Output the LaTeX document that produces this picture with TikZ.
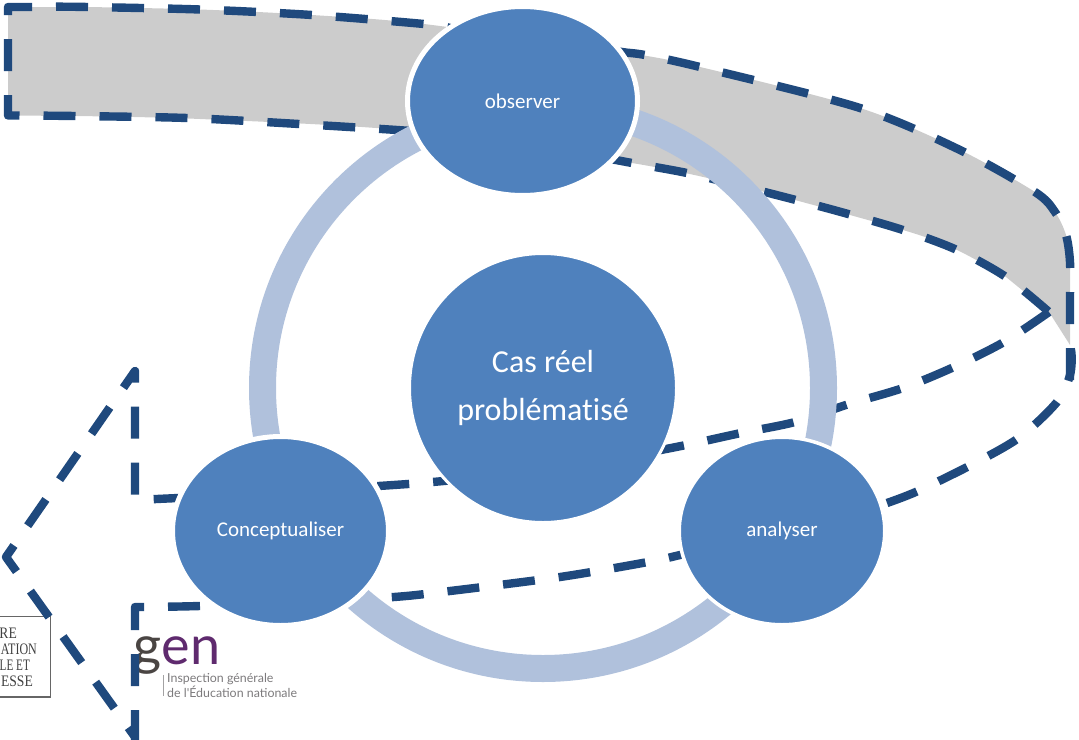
\documentclass[tikz,border=0pt]{standalone}
\usepackage{fontspec}
\usetikzlibrary{shapes.geometric}
\setmainfont[Ligatures=NoCommon]{Carlito}
\newfontfamily\logofont{Lato}
\newfontfamily\minfont{Liberation Serif}
\definecolor{dashblue}{HTML}{1F497D}
\definecolor{nodeblue}{HTML}{4F81BD}
\definecolor{ringblue}{HTML}{B0C1DC}
\definecolor{bandgrey}{HTML}{CCCCCC}
\definecolor{genpurple}{HTML}{5F2A6E}
\definecolor{gengrey}{HTML}{4A4543}
\definecolor{gentext}{HTML}{7C7A7C}
\tikzset{
  dashline/.style={draw=dashblue,line width=8.4pt,dash pattern=on 32pt off 24pt,line join=round},
  blob/.style={ellipse,fill=nodeblue,draw=white,inner sep=0pt,text=white,align=center,line width=5pt,font=\fontsize{21}{25}\selectfont},
  mintext/.style={anchor=east,inner sep=0pt,text=black!75,transform shape,font=\minfont\fontsize{16}{18}\selectfont},
  genmark/.style={anchor=base west,inner sep=0pt,font=\logofont\fontsize{54}{54}\selectfont},
  gensmall/.style={anchor=base west,inner sep=0pt,text=gentext,font=\logofont\fontsize{12.4}{14}\selectfont}
}
\begin{document}
\begin{tikzpicture}[x=1pt,y=-1pt]
\useasboundingbox (0,0) rectangle (1079,739);
\clip (0,0) rectangle (1079,739);
% logos
\draw[line width=1.2pt,black!60] (0,616.5) -- (50.5,616.5) -- (50.5,697) -- (0,697);
\node[mintext,xscale=.85] (m1) at (17,633) {RE};
\node[mintext,xscale=.75] (m2) at (37,649) {ATION};
\node[mintext,xscale=.7] (m3) at (30,665) {LE ET};
\node[mintext,xscale=.85] (m4) at (33,681) {ESSE};
\node[genmark,text=gengrey] (geng) at (133,664) {g};
\node[genmark,text=genpurple] (genen) at (geng.base east) {en};
\draw[line width=1pt,gentext!70] (163,675) -- (163,696);
\node[gensmall] (g1) at (167,682) {Inspection générale};
\node[gensmall] (g2) at (167,697) {de l'Éducation nationale};
% grey band
\fill[bandgrey] (8,7) -- plot[smooth] coordinates {(88,7) (200,9.5) (312,15) (424,24) (622,52) (700,67) (860,108) (960,150) (1035,192) (1055,212) (1066,235) (1070,262)} -- (1070,345) -- (1049,312) -- plot[smooth] coordinates {(1006,277) (957,250) (903,230) (745,187) (632,163) (411,131) (200,119) (75,116)} -- (8,115.5) -- cycle;
% dashed outline
\draw[dashline] (32,7) -- (8,7) -- (8,115.5) -- plot[smooth] coordinates {(18,115.5) (75,116) (187,118) (299,124) (411,131) (440,135)};
\draw[dashline] plot[smooth] coordinates {(56,6.7) (88,7) (200,9.5) (312,15) (424,24) (450,28)};
\draw[dashline] plot[smooth] coordinates {(600,157) (632,163) (687,173) (745,187) (830,209) (903,230) (957,250) (1006,277) (1049,312)};
\draw[dashline] plot[smooth] coordinates {(1049,312) (1004,342) (954,367) (903,388) (849,404) (795,422) (741,433) (686,445) (620,458)};
\draw[dashline] plot[smooth] coordinates {(465,479) (408,484) (300,491) (200,497)} -- (135,500) -- (135,371) -- (6,557) -- (135,737);
\draw[dashline] (135,742) -- (135,607) -- plot[smooth] coordinates {(144,607) (200,606) (300,602) (394,597) (450,591) (560,577) (648,562) (680,555) (700,550)};
\draw[dashline] plot[smooth] coordinates {(887,503) (918,491) (975,463) (1020,437) (1057,402) (1070,375) (1071,350) (1062,333)};
\draw[dashline] plot[smooth] coordinates {(1070,380) (1070,300) (1070,262) (1066,235) (1055,212) (1035,192) (960,150) (860,108) (700,67) (645,55) (622,52) (600,47)};
% ring
\draw[ringblue,line width=27pt] (543,388) circle[radius=280.5];
% nodes
\node[blob,minimum width=230pt,minimum height=189pt] (obs) at (522.5,101) {observer};
\node[blob,line width=3pt,minimum width=267pt,minimum height=269pt,font=\fontsize{32}{48}\selectfont] (cas) at (543,388) {\raisebox{-1pt}{Cas réel}\\\raisebox{-1pt}{problématisé}};
\node[blob,minimum width=216pt,minimum height=189pt] (con) at (280.5,531) {\raisebox{-1pt}{Conceptualiser}};
\node[blob,line width=3.5pt,minimum width=205.5pt,minimum height=187.5pt] (ana) at (782,531) {\raisebox{-1pt}{analyser}};
\end{tikzpicture}
\end{document}
